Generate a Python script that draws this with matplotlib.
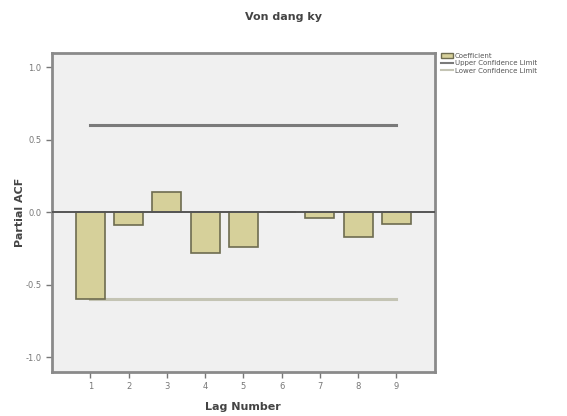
import matplotlib.pyplot as plt
from matplotlib.patches import Patch
from matplotlib.lines import Line2D

lags = [1, 2, 3, 4, 5, 6, 7, 8, 9]
pacf = [-0.60, -0.09, 0.14, -0.28, -0.24, 0.0, -0.04, -0.17, -0.08]
upper_limit = 0.60
lower_limit = -0.60
yticks = [1.0, 0.5, 0.0, -0.5, -1.0]
ytick_labels = ["1.0", "0.5", "0.0", "-0.5", "-1.0"]

bar_color = "#d6d09a"
bar_edge = "#6e6c50"
upper_color = "#7a7a7a"
lower_color = "#c4c4b4"

fig = plt.figure(figsize=(5.67, 4.16), dpi=100)
ax = fig.add_axes([0.0917, 0.106, 0.675, 0.767])
ax.set_facecolor("#f0f0f0")

ax.bar(lags, pacf, width=0.76, color=bar_color, edgecolor=bar_edge, linewidth=1.2, zorder=3)
ax.axhline(0, color="#555555", linewidth=1.4, zorder=4)
ax.plot([lags[0], lags[-1]], [upper_limit, upper_limit], color=upper_color, linewidth=2.2, zorder=2)
ax.plot([lags[0], lags[-1]], [lower_limit, lower_limit], color=lower_color, linewidth=2.2, zorder=2)

ax.set_xlim(0, 10)
ax.set_ylim(-1.1, 1.1)
ax.set_xticks(lags)
ax.set_xticklabels([str(l) for l in lags])
ax.set_yticks(yticks)
ax.set_yticklabels(ytick_labels)
ax.tick_params(labelsize=6, colors="#777777", length=4, width=1)
for s in ax.spines.values():
    s.set_color("#8a8a8a")
    s.set_linewidth(2)

ax.set_xlabel("Lag Number", fontsize=8, fontweight="bold", color="#444444", labelpad=8)
ax.set_ylabel("Partial ACF", fontsize=8, fontweight="bold", color="#444444", labelpad=0)
fig.text(0.5, 0.958, "Von dang ky", ha="center", va="center", fontsize=8,
         fontweight="bold", color="#444444")

handles = [Patch(facecolor=bar_color, edgecolor=bar_edge, label="Coefficient"),
           Line2D([], [], color=upper_color, linewidth=1.5, label="Upper Confidence Limit"),
           Line2D([], [], color=lower_color, linewidth=1.5, label="Lower Confidence Limit")]
fig.legend(handles=handles, loc="upper left", bbox_to_anchor=(0.77, 0.885), frameon=False,
           fontsize=5, handlelength=1.6, handleheight=0.8, labelspacing=0.2,
           handletextpad=0.3, borderpad=0.2, labelcolor="#555555")

fig.savefig("out.png", dpi=100)
